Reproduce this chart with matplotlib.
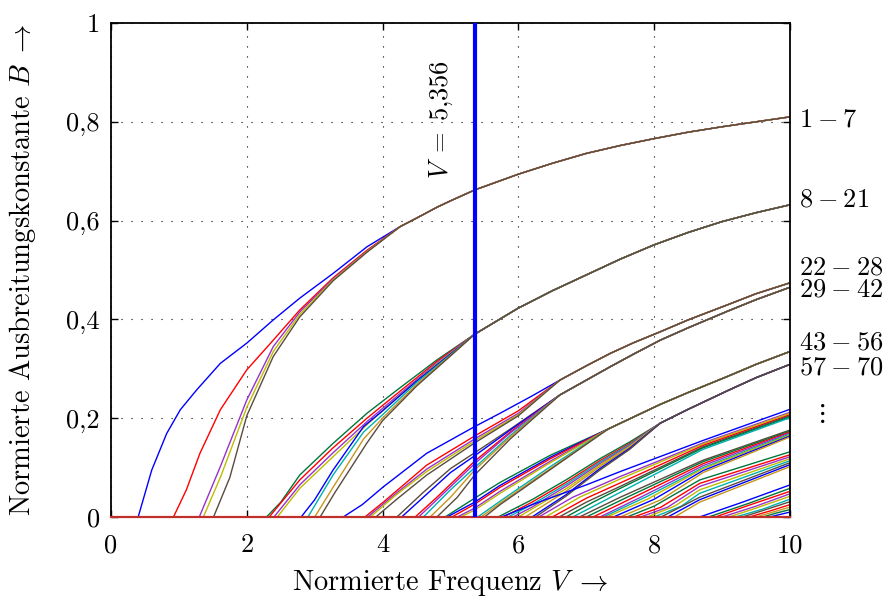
import matplotlib
matplotlib.use("Agg")
import matplotlib.pyplot as plt

plt.rcParams['font.family'] = 'serif'
plt.rcParams['font.serif'] = ['cmr10']
plt.rcParams['mathtext.fontset'] = 'cm'
plt.rcParams['axes.unicode_minus'] = False

# colours of the single modes (as in the original plot)
colors = {'b': '#0000ff', 'g': '#00763c', 'r': '#ff0000', 'c': '#00b0b0',
          'm': '#9a30cc', 'y': '#bcbc00', 'o': '#c8961e', 'n': '#5a4b3e'}

# mode group 1-7 : merged tail + single heads (V, B)
g1_tail_v = [4.26, 4.5, 4.8, 5.0, 5.356, 6.0, 6.5, 7.0, 7.5, 8.0, 8.5, 9.0, 9.5, 10.0]
g1_tail_b = [0.588, 0.605, 0.627, 0.640, 0.662, 0.694, 0.716, 0.736, 0.752, 0.766, 0.779, 0.790, 0.800, 0.810]
g1_heads = [
    ('b', [0.40, 0.60, 0.82, 1.02, 1.26, 1.61, 2.00, 2.39, 2.78, 3.27, 3.77],
          [0, 0.095, 0.169, 0.217, 0.257, 0.311, 0.352, 0.399, 0.443, 0.493, 0.547]),
    ('r', [0.92, 1.11, 1.31, 1.61, 2.00, 2.39, 2.78, 3.27, 3.77],
          [0, 0.055, 0.129, 0.217, 0.298, 0.358, 0.419, 0.484, 0.540]),
    ('m', [1.30, 1.61, 2.00, 2.39, 2.78, 3.27, 3.77], [0, 0.102, 0.237, 0.345, 0.415, 0.482, 0.538]),
    ('y', [1.36, 1.61, 2.00, 2.39, 2.78, 3.27, 3.77], [0, 0.080, 0.222, 0.335, 0.410, 0.480, 0.537]),
    ('n', [1.51, 1.75, 2.00, 2.39, 2.78, 3.27, 3.77], [0, 0.080, 0.205, 0.325, 0.405, 0.478, 0.536]),
]

# mode group 8-21
g2_tail_v = [5.356, 6.0, 6.5, 7.0, 7.5, 8.0, 8.5, 9.0, 9.5, 10.0]
g2_tail_b = [0.370, 0.423, 0.458, 0.490, 0.522, 0.551, 0.576, 0.598, 0.616, 0.632]
g2_heads = [
    ('g', [2.29, 2.50, 2.78, 3.27, 3.77, 4.26, 4.80], [0, 0.030, 0.085, 0.149, 0.210, 0.262, 0.318]),
    ('r', [2.33, 2.78, 3.27, 3.77, 4.26, 4.80], [0, 0.075, 0.140, 0.200, 0.255, 0.315]),
    ('m', [2.40, 2.78, 3.27, 3.77, 4.26, 4.80], [0, 0.065, 0.130, 0.193, 0.250, 0.312]),
    ('y', [2.45, 2.78, 3.27, 3.77, 4.26, 4.80], [0, 0.058, 0.122, 0.187, 0.247, 0.310]),
    ('b', [2.80, 3.00, 3.27, 3.72, 4.00, 4.50, 5.00], [0, 0.035, 0.095, 0.183, 0.215, 0.275, 0.330]),
    ('c', [2.90, 3.27, 3.72, 4.00, 4.50, 5.00], [0, 0.085, 0.172, 0.207, 0.272, 0.328]),
    ('o', [3.00, 3.27, 3.72, 4.00, 4.50, 5.00], [0, 0.060, 0.158, 0.200, 0.268, 0.327]),
    ('n', [3.08, 3.30, 3.77, 4.00, 4.50, 5.00], [0, 0.050, 0.150, 0.195, 0.265, 0.326]),
]

# mode group 22-28
g3_tail_v = [6.61, 7.0, 7.35, 7.7, 8.09, 8.5, 9.07, 9.5, 10.0]
g3_tail_b = [0.277, 0.306, 0.331, 0.353, 0.375, 0.399, 0.429, 0.452, 0.474]
g3_heads = [
    ('b', [3.42, 3.70, 4.01, 4.65, 5.356, 5.73, 6.20], [0, 0.025, 0.061, 0.129, 0.183, 0.210, 0.245]),
    ('r', [3.74, 4.01, 4.65, 5.356, 6.00], [0, 0.030, 0.105, 0.164, 0.215]),
    ('m', [3.78, 4.20, 4.65, 5.356, 6.00], [0, 0.048, 0.097, 0.158, 0.210]),
    ('y', [3.82, 4.20, 4.65, 5.356, 6.00], [0, 0.045, 0.092, 0.154, 0.207]),
    ('n', [3.90, 4.20, 4.65, 5.356, 6.00], [0, 0.035, 0.085, 0.150, 0.205]),
]

# mode group 29-42
g4_tail_v = [6.61, 7.0, 7.35, 7.7, 8.09, 8.5, 9.07, 9.5, 10.0]
g4_tail_b = [0.247, 0.277, 0.304, 0.330, 0.358, 0.383, 0.416, 0.440, 0.465]
g4_heads = [
    ('n', [4.21, 4.60, 5.00, 5.356, 5.88], [0, 0.050, 0.098, 0.130, 0.178]),
    ('b', [4.28, 4.60, 5.00, 5.356, 5.88], [0, 0.040, 0.090, 0.124, 0.176]),
    ('r', [4.48, 4.80, 5.356, 5.88], [0, 0.040, 0.113, 0.172]),
    ('m', [4.53, 4.80, 5.356, 5.88], [0, 0.035, 0.108, 0.170]),
    ('c', [4.60, 5.00, 5.356, 5.88], [0, 0.055, 0.100, 0.165]),
    ('o', [4.70, 5.00, 5.356, 5.88], [0, 0.040, 0.095, 0.162]),
    ('n', [4.80, 5.10, 5.356, 5.88], [0, 0.040, 0.085, 0.158]),
]

# mode group 43-56
g5_tail_v = [7.32, 8.09, 8.5, 9.07, 9.5, 10.0]
g5_tail_b = [0.178, 0.228, 0.252, 0.284, 0.309, 0.335]
g5_heads = [
    ('g', [4.92, 5.39, 5.73, 6.47], [0, 0.041, 0.070, 0.125]),
    ('b', [4.95, 5.356, 5.73, 6.47], [0, 0.030, 0.064, 0.121]),
    ('r', [5.02, 5.356, 5.73, 6.47], [0, 0.026, 0.060, 0.118]),
    ('m', [5.10, 5.356, 5.73, 6.47], [0, 0.018, 0.052, 0.113]),
    ('y', [5.15, 5.356, 5.73, 6.47], [0, 0.014, 0.048, 0.110]),
    ('c', [5.40, 5.73, 6.47], [0, 0.032, 0.102]),
    ('o', [5.45, 5.73, 6.47], [0, 0.028, 0.098]),
    ('n', [5.50, 5.73, 6.47], [0, 0.025, 0.096]),
]

# mode group 57-70
g6_tail_v = [8.09, 8.5, 9.07, 9.5, 10.0]
g6_tail_b = [0.190, 0.218, 0.255, 0.282, 0.309]
g6_heads = [
    ('g', [5.70, 6.20, 6.70, 7.20, 7.64], [0, 0.035, 0.075, 0.118, 0.152]),
    ('r', [5.78, 6.20, 6.70, 7.20, 7.64], [0, 0.030, 0.070, 0.114, 0.149]),
    ('c', [5.85, 6.20, 6.70, 7.20, 7.64], [0, 0.025, 0.066, 0.111, 0.147]),
    ('m', [5.92, 6.20, 6.70, 7.20, 7.64], [0, 0.020, 0.062, 0.108, 0.145]),
    ('y', [6.00, 6.70, 7.20, 7.64], [0, 0.057, 0.105, 0.143]),
    ('o', [6.10, 6.70, 7.20, 7.64], [0, 0.052, 0.102, 0.141]),
    ('b', [6.20, 6.70, 7.20, 7.64], [0, 0.045, 0.098, 0.139]),
    ('n', [6.25, 6.70, 7.20, 7.64], [0, 0.042, 0.095, 0.137]),
]

# higher modes (not merged within the plotted range)
g7_modes = [
    ('b', [5.75, 6.20, 6.60, 7.00, 7.50, 8.72, 10.0], [0, 0.025, 0.045, 0.065, 0.092, 0.155, 0.218]),
    ('m', [6.30, 6.80, 7.50, 8.72, 10.0], [0, 0.040, 0.082, 0.150, 0.212]),
    ('y', [6.40, 6.90, 7.50, 8.72, 10.0], [0, 0.040, 0.077, 0.148, 0.210]),
    ('r', [6.50, 7.00, 7.50, 8.72, 10.0], [0, 0.038, 0.069, 0.145, 0.207]),
    ('n', [6.60, 7.00, 7.50, 8.72, 10.0], [0, 0.030, 0.062, 0.142, 0.205]),
    ('g', [6.70, 7.10, 7.50, 8.72, 10.0], [0, 0.030, 0.058, 0.140, 0.203]),
    ('c', [6.80, 7.50, 8.72, 10.0], [0, 0.050, 0.137, 0.201]),
]
g8_modes = [
    ('n', [6.90, 7.50, 8.72, 10.0], [0, 0.040, 0.115, 0.176]),
    ('g', [7.00, 7.60, 8.72, 10.0], [0, 0.040, 0.112, 0.174]),
    ('r', [7.10, 7.70, 8.72, 10.0], [0, 0.040, 0.108, 0.172]),
    ('m', [7.20, 7.80, 8.72, 10.0], [0, 0.040, 0.104, 0.170]),
    ('c', [7.25, 7.90, 8.72, 10.0], [0, 0.042, 0.100, 0.168]),
    ('y', [7.30, 7.90, 8.72, 10.0], [0, 0.036, 0.098, 0.166]),
    ('b', [7.40, 8.00, 8.72, 10.0], [0, 0.036, 0.094, 0.164]),
    ('o', [7.50, 8.10, 8.72, 10.0], [0, 0.035, 0.090, 0.162]),
]
g9_modes = [
    ('g', [7.60, 8.00, 8.67, 10.0], [0, 0.022, 0.075, 0.132]),
    ('r', [7.70, 8.10, 8.67, 10.0], [0, 0.020, 0.068, 0.126]),
    ('m', [7.80, 8.20, 8.67, 10.0], [0, 0.020, 0.062, 0.122]),
    ('y', [7.90, 8.30, 8.67, 10.0], [0, 0.022, 0.055, 0.118]),
    ('c', [8.00, 8.40, 8.67, 10.0], [0, 0.022, 0.048, 0.114]),
    ('n', [8.10, 8.67, 10.0], [0, 0.040, 0.110]),
    ('b', [8.20, 8.67, 10.0], [0, 0.035, 0.106]),
    ('o', [8.30, 8.67, 10.0], [0, 0.030, 0.102]),
]
g10_modes = [
    ('b', [8.67, 9.30, 10.0], [0, 0.030, 0.065]),
    ('g', [8.80, 9.40, 10.0], [0, 0.028, 0.058]),
    ('r', [8.90, 9.40, 10.0], [0, 0.024, 0.052]),
    ('m', [9.00, 9.50, 10.0], [0, 0.022, 0.047]),
    ('y', [9.10, 9.50, 10.0], [0, 0.018, 0.042]),
    ('c', [9.20, 9.60, 10.0], [0, 0.016, 0.036]),
    ('n', [9.30, 9.60, 10.0], [0, 0.013, 0.031]),
    ('r', [9.40, 9.70, 10.0], [0, 0.012, 0.025]),
    ('o', [9.50, 9.75, 10.0], [0, 0.010, 0.020]),
    ('g', [9.60, 9.80, 10.0], [0, 0.008, 0.015]),
    ('b', [9.70, 10.0], [0, 0.010]),
]

group_labels = [r'$1\:-\:7$', r'$8\:-\:21$', r'$22\:-\:28$', r'$29\:-\:42$',
                r'$43\:-\:56$', r'$57\:-\:70$', r'$\vdots$']
group_label_b = [0.804, 0.642, 0.505, 0.461, 0.352, 0.303, 0.21]

V_marker = 5.356

xticks = [0, 2, 4, 6, 8, 10]
xticklabels = ['0', '2', '4', '6', '8', '10']
yticks = [0, 0.2, 0.4, 0.6, 0.8, 1.0]
yticklabels = ['0', '0,2', '0,4', '0,6', '0,8', '1']


def draw_group(ax, heads, tail_v=None, tail_b=None):
    for c, hv, hb in heads:
        v = [0] + hv
        b = [0] + hb
        if tail_v is not None:
            v = v + tail_v
            b = b + tail_b
        ax.plot(v, b, color=colors[c], lw=1.0, zorder=2)


fig = plt.figure(figsize=(8.86, 6.03), dpi=100)
ax = fig.add_axes([111/886, 86/603, 679/886, 494/603])

draw_group(ax, g1_heads, g1_tail_v, g1_tail_b)
draw_group(ax, g2_heads, g2_tail_v, g2_tail_b)
draw_group(ax, g3_heads, g3_tail_v, g3_tail_b)
draw_group(ax, g4_heads, g4_tail_v, g4_tail_b)
draw_group(ax, g5_heads, g5_tail_v, g5_tail_b)
draw_group(ax, g6_heads, g6_tail_v, g6_tail_b)
draw_group(ax, g7_modes)
draw_group(ax, g8_modes)
draw_group(ax, g9_modes)
draw_group(ax, g10_modes)

ax.axhline(0, color='#c0302a', lw=1.6, zorder=2.6, clip_on=False)
ax.axvline(V_marker, color='#0000ff', lw=3.0, zorder=3)
ax.text(4.86, 0.805, r'$V\;=\;5{,}356$', rotation=90, ha='center', va='center', fontsize=19)

for lab, yb in zip(group_labels, group_label_b):
    if lab.startswith(r'$\v'):
        ax.text(10.44, yb, lab, ha='center', va='center', fontsize=19, clip_on=False)
    else:
        ax.text(10.13, yb, lab, ha='left', va='center', fontsize=19, clip_on=False)

ax.set_xlim(0, 10)
ax.set_ylim(0, 1)
ax.set_xticks(xticks)
ax.set_xticklabels(xticklabels)
ax.set_yticks(yticks)
ax.set_yticklabels(yticklabels)
ax.tick_params(direction='in', length=5, width=1, top=True, right=True, labelsize=19)
ax.tick_params(axis='x', pad=12)
ax.tick_params(axis='y', pad=8)
ax.grid(True, color='black', lw=0.8, linestyle=(0, (1, 8)))
for s in ax.spines.values():
    s.set_linewidth(1.3)

ax.set_xlabel(r'Normierte Frequenz $V\;\rightarrow$', fontsize=20.5)
ax.set_ylabel(r'Normierte Ausbreitungskonstante $B\;\rightarrow$', fontsize=20.5)
ax.xaxis.set_label_coords(0.5, -0.103)
ax.yaxis.set_label_coords(-0.107, 0.5)

fig.savefig('out.png', dpi=100)
